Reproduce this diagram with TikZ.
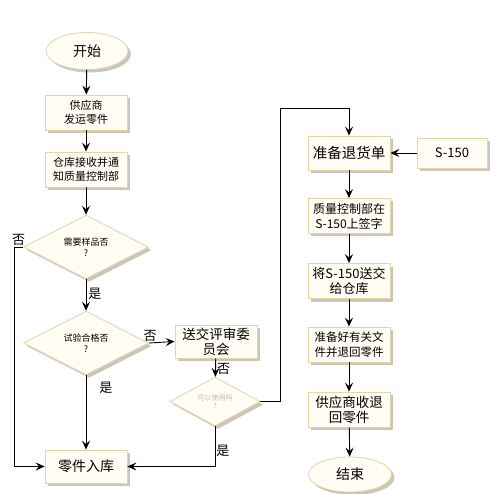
\documentclass[tikz,border=0pt]{standalone}
\usepackage{fontspec}
\setmainfont{Noto Sans CJK SC}
\usetikzlibrary{arrows.meta,shapes.geometric,shadows}

\definecolor{boxfill}{HTML}{FFFDF4}
\definecolor{boxline}{HTML}{E6D3A8}
\definecolor{shadowgray}{HTML}{CBC6BC}

\begin{document}
\begin{tikzpicture}[x=1pt,y=-1pt,
  shd/.style={drop shadow={shadow xshift=3pt, shadow yshift=-3pt, fill=shadowgray, opacity=1}},
  box/.style={rectangle, draw=boxline, fill=boxfill, line width=0.8pt, shd,
    minimum width=82pt, minimum height=35pt, inner sep=1pt, align=center},
  term/.style={ellipse, draw=boxline, fill=boxfill, line width=0.8pt, shd,
    minimum width=82pt, minimum height=37pt, inner sep=0pt, font=\fontsize{14}{16}\selectfont},
  decide/.style={diamond, draw=boxline, fill=boxfill, line width=0.8pt, shd,
    inner sep=0pt, align=center, font=\fontsize{9}{11}\selectfont},
  arr/.style={-{Stealth[length=9pt,width=8pt,inset=3.5pt]}, line width=0.9pt},
  lbl/.style={font=\fontsize{13}{13}\selectfont, inner sep=1pt}
]
\useasboundingbox (0,0) rectangle (500,494);

% left column
\node[term] (start) at (87,51) {开始};
\node[box, font=\fontsize{11}{14}\selectfont] (ship) at (86,112.5) {供应商\\发运零件};
\node[box, font=\fontsize{11}{14}\selectfont] (recv) at (86,169.5) {仓库接收并通\\知质量控制部};
\node[decide, minimum width=125pt, minimum height=55pt] (sample) at (86,247) {需要样品否\\?};
\node[decide, minimum width=125pt, minimum height=59pt] (test) at (86,343) {试验合格否\\?};
\node[box, minimum height=33pt, font=\fontsize{14}{16}\selectfont] (store) at (86,466.5) {零件入库};

% review branch
\node[box, minimum height=33pt, font=\fontsize{13.5}{15}\selectfont] (review) at (216,341.5) {送交评审委\\员会};
\node[decide, minimum width=90pt, minimum height=43pt, font=\fontsize{7}{8}\selectfont, text=gray!55] (usable) at (215,401.5) {可以使用吗\\?};

% right column
\node[box, minimum height=34pt, font=\fontsize{14.5}{16}\selectfont] (form) at (349,153) {准备退货单};
\node[box, minimum width=70pt, minimum height=30pt, font=\fontsize{13}{15}\selectfont] (sform) at (452,153) {S-150};
\node[box, font=\fontsize{12}{15}\selectfont] (sign) at (349,216) {质量控制部在\\S-150上签字};
\node[box, font=\fontsize{13}{15}\selectfont] (hand) at (349,281) {将S-150送交\\给仓库};
\node[box, font=\fontsize{11.5}{15}\selectfont] (docs) at (349,344.5) {准备好有关文\\件并退回零件};
\node[box, font=\fontsize{13.5}{15}\selectfont] (back) at (349,409.5) {供应商收退\\回零件};
\node[term, minimum width=83pt, minimum height=35pt] (stop) at (350,474.5) {结束};

\coordinate (cnL) at (14,247);
\coordinate (cnR) at (280,108);

% connectors
\draw[arr] (start) -- (ship);
\draw[arr] (ship) -- (recv);
\draw[arr] (recv) -- (sample);
\draw[arr] (sample) -- node[lbl, right, xshift=1pt, pos=0.45] {是} (test);
\draw[arr] (sample.west) -- node[lbl, above] {否} (cnL) |- (store.west);
\draw[arr] (test.east) -- node[lbl, above, pos=0.05] {否} (review.west);
\draw[arr] (test) -- node[lbl, right, xshift=12pt, pos=0.17] {是} (store);
\draw[arr] (review) -- node[lbl, right, pos=0.55] {否} (usable);
\draw[arr] (usable.south) |- node[lbl, right, pos=0.3] {是} (store.east);
\draw[arr] (usable.east) -| (cnR) -| (form.north);
\draw[arr] (sform) -- (form);
\draw[arr] (form) -- (sign);
\draw[arr] (sign) -- (hand);
\draw[arr] (hand) -- (docs);
\draw[arr] (docs) -- (back);
\draw[arr] (back) -- (stop);
\end{tikzpicture}
\end{document}
